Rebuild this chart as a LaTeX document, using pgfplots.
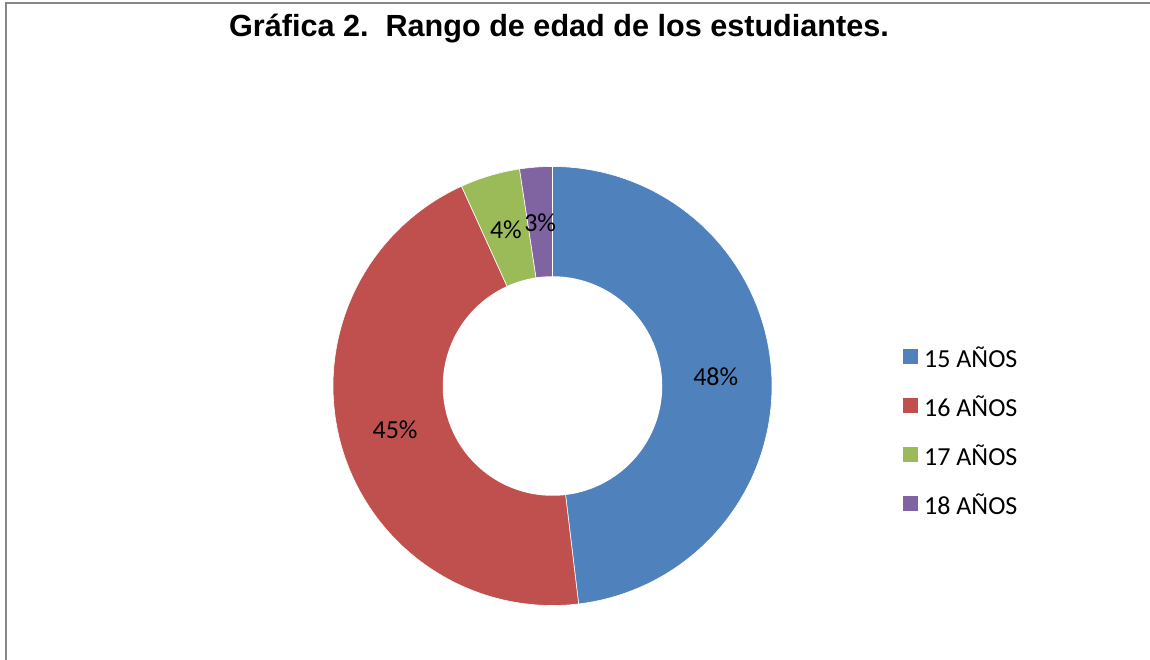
\documentclass[border=0pt]{standalone}
\usepackage{fontspec}
\setmainfont{Carlito}
\newfontfamily\titlefont{Liberation Sans}
\usepackage{pgfplots}
\usepackage{pgfplotstable}
\usepgfplotslibrary{polar}
\pgfplotsset{compat=1.18}

\definecolor{c15}{RGB}{79,129,189}
\definecolor{c16}{RGB}{192,80,77}
\definecolor{c17}{RGB}{155,187,89}
\definecolor{c18}{RGB}{128,100,162}
\definecolor{marco}{RGB}{134,134,134}

% share of each age group (slice size, %)
\pgfplotstableread{
edad share
15 48.1
16 45.1
17 4.4
18 2.4
}\edades

\pgfplotstablegetelem{0}{share}\of\edades \let\sa\pgfplotsretval
\pgfplotstablegetelem{1}{share}\of\edades \let\sb\pgfplotsretval
\pgfplotstablegetelem{2}{share}\of\edades \let\sc\pgfplotsretval
\pgfplotstablegetelem{3}{share}\of\edades \let\sd\pgfplotsretval

% slices run clockwise from the top
\pgfmathsetmacro\aA{90}
\pgfmathsetmacro\aB{\aA-3.6*\sa}
\pgfmathsetmacro\aC{\aB-3.6*\sb}
\pgfmathsetmacro\aD{\aC-3.6*\sc}
\pgfmathsetmacro\aE{\aD-3.6*\sd}
\pgfmathsetmacro\mA{(\aA+\aB)/2}
\pgfmathsetmacro\mB{(\aB+\aC)/2}
\pgfmathsetmacro\mC{(\aC+\aD)/2}
\pgfmathsetmacro\mD{(\aD+\aE)/2}

\begin{document}
\begin{tikzpicture}[x=1pt,y=1pt]
\useasboundingbox (0,0) rectangle (1150,660);
\draw[marco, line width=2pt] (5.5,-20) -- (5.5,656.5) -- (1170,656.5);
\node[anchor=base, font=\titlefont\bfseries\fontsize{30.6}{30.6}\selectfont] at (559,623.5)
  {Gráfica 2.\ \ Rango de edad de los estudiantes.};

\begin{polaraxis}[
  at={(552.5pt,274pt)}, anchor=center,
  scale only axis, width=439pt, height=439pt,
  hide axis, ymin=0, ymax=1, clip=false,
  legend style={at={(axis description cs:1.2976,0.396)}, anchor=west,
    draw=none, fill=none, inner sep=0pt,
    font=\fontsize{26}{26}\selectfont, row sep=30pt,
    nodes={inner sep=0pt, text height=16pt, text depth=0pt}},
  legend cell align=left,
  legend image code/.code={\fill[#1,draw=none] (0pt,-4pt) rectangle (15pt,11pt);
    \path (21pt,0pt);},
]
\addplot[fill=c15, draw=white, line width=0.6pt, domain=\aB:\aA, samples=150] {1} -- (axis cs:0,0) -- cycle;
\addlegendentry{15 AÑOS}
\addplot[fill=c16, draw=white, line width=0.6pt, domain=\aC:\aB, samples=150] {1} -- (axis cs:0,0) -- cycle;
\addlegendentry{16 AÑOS}
\addplot[fill=c17, draw=white, line width=0.6pt, domain=\aD:\aC, samples=30] {1} -- (axis cs:0,0) -- cycle;
\addlegendentry{17 AÑOS}
\addplot[fill=c18, draw=white, line width=0.6pt, domain=\aE:\aD, samples=30] {1} -- (axis cs:0,0) -- cycle;
\addlegendentry{18 AÑOS}
% hole of the donut
\addplot[fill=white, draw=none, domain=0:360, samples=200, forget plot] {0.5};
\addplot[only marks, mark=none, forget plot, nodes near coords, point meta=explicit symbolic,
  nodes near coords style={anchor=center, text=black, font=\fontsize{26}{26}\selectfont}]
  coordinates {(\mA,0.745) [48\%] (\mB,0.745) [45\%] (\mC,0.745) [4\%] (\mD,0.745) [3\%]};
\end{polaraxis}
\end{tikzpicture}
\end{document}
